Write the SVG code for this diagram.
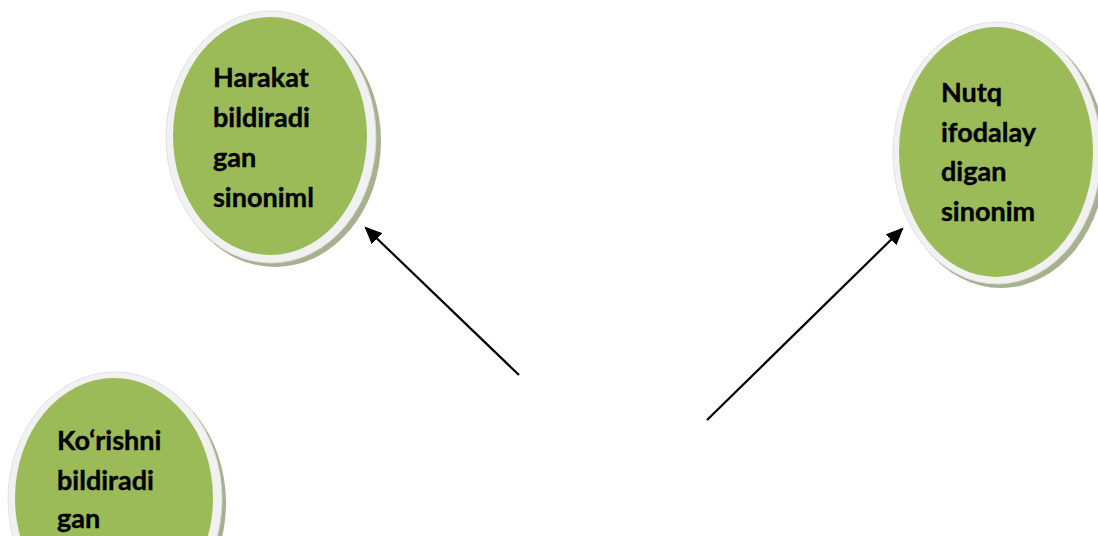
<svg xmlns="http://www.w3.org/2000/svg" width="1098" height="536" viewBox="0 0 1098 536">
<style>
.shadow{fill:#a7b08f;}
.ring{fill:#f1f1f1;stroke:#dcdcdc;stroke-width:0.8;}
.body{fill:#9bbb59;}
.lbl{font-family:Lato,"Open Sans","Liberation Sans",sans-serif;font-weight:bold;font-size:27px;fill:#000;stroke:#000;stroke-width:0.4;}
.conn{stroke:#000;stroke-width:2.2;fill:none;marker-end:url(#ah);}
</style>
<defs>
<marker id="ah" markerWidth="8" markerHeight="7" refX="7" refY="3.5" orient="auto" markerUnits="strokeWidth">
<path d="M0,0 L8,3.5 L0,7 Z" fill="#000"/>
</marker>
</defs>
<rect width="1098" height="536" fill="#fff"/>
<g id="node-harakat">
<ellipse class="shadow" cx="275" cy="141" rx="106" ry="126"/>
<ellipse class="ring" cx="271" cy="137" rx="105" ry="126"/>
<ellipse class="body" cx="270" cy="136" rx="97" ry="119"/>
<text class="lbl" x="213" y="86.5">Harakat</text>
<text class="lbl" x="213" y="126.5">bildiradi</text>
<text class="lbl" x="213" y="166.5">gan</text>
<text class="lbl" x="213" y="206.5">sinoniml</text>
</g>
<g id="node-nutq">
<ellipse class="shadow" cx="1001" cy="157" rx="105" ry="131"/>
<ellipse class="ring" cx="997" cy="153" rx="104" ry="131"/>
<ellipse class="body" cx="996" cy="152" rx="97" ry="125"/>
<text class="lbl" x="941" y="101.5">Nutq</text>
<text class="lbl" x="941" y="141.5">ifodalay</text>
<text class="lbl" x="941" y="180.5">digan</text>
<text class="lbl" x="941" y="220.5">sinonim</text>
</g>
<g id="node-korishni">
<ellipse class="shadow" cx="119" cy="503" rx="107" ry="127"/>
<ellipse class="ring" cx="115" cy="499" rx="107" ry="127"/>
<ellipse class="body" cx="114" cy="498" rx="99" ry="120"/>
<text class="lbl" x="57" y="450">Ko‘rishni</text>
<text class="lbl" x="57" y="490">bildiradi</text>
<text class="lbl" x="57" y="528">gan</text>
</g>
<g id="connectors">
<line class="conn" x1="519" y1="375" x2="366" y2="228"/>
<line class="conn" x1="707" y1="420" x2="902" y2="229"/>
</g>
</svg>
